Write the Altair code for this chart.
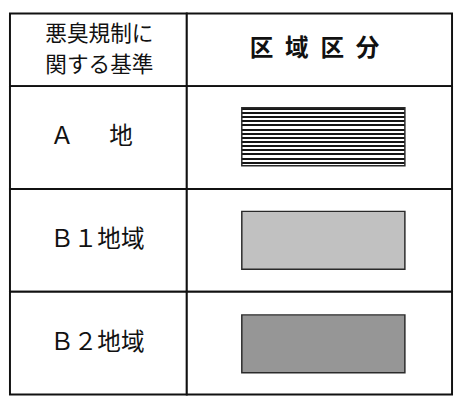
import altair as alt
import pandas as pd

# ---- table content ----
header_left_lines = ["悪臭規制に", "関する基準"]
header_right = "区\u2002域\u2002区\u2002分"
region_labels = ["Ａ\u3000\u2002地", "Ｂ１地域", "Ｂ２地域"]
region_patterns = ["hatch", "solid", "solid"]
region_fills = ["#ffffff", "#c1c1c1", "#969696"]

# ---- layout / style constants ----
LEFT_W, RIGHT_W = 180, 270
HEAD_H, BODY_H = 74, 314
LINE = "#111111"
LW = 2
FONT = "Noto Sans CJK JP"
TXT = "#111111"

# horizontal-line hatch as a striped gradient (style only)
N_STRIPES = 14
stops = []
for i in range(N_STRIPES):
    a = i / N_STRIPES
    b = (i + 0.48) / N_STRIPES
    c = (i + 1) / N_STRIPES
    stops += [
        {"offset": a, "color": "#151515"},
        {"offset": b, "color": "#151515"},
        {"offset": b, "color": "#ffffff"},
        {"offset": c, "color": "#ffffff"},
    ]
hatch = {"gradient": "linear", "x1": 0, "y1": 0, "x2": 0, "y2": 1, "stops": stops}

hl_df = pd.DataFrame({"text": header_left_lines})
hr_df = pd.DataFrame({"text": [header_right]})
body_df = pd.DataFrame({"label": region_labels, "pattern": region_patterns, "fill": region_fills})


def box(df, w, h):
    return alt.Chart(df).mark_rect(fill="white", stroke=LINE, strokeWidth=LW).encode(
        x=alt.value(0), x2=alt.value(w), y=alt.value(0), y2=alt.value(h)
    )


# header, left: two lines positioned by a point scale
line_y = alt.Y("text:N", sort=header_left_lines, axis=None,
               scale=alt.Scale(type="point", padding=0.7))
tl_txt = alt.Chart(hl_df).mark_text(
    font=FONT, fontSize=22, align="center", baseline="middle", color=TXT
).encode(text="text:N", x=alt.value(LEFT_W / 2 + 1), y=line_y)
tl = alt.layer(box(hl_df.iloc[[0]], LEFT_W, HEAD_H), tl_txt).resolve_scale(
    y="independent").properties(width=LEFT_W, height=HEAD_H)

# header, right
tr_txt = alt.Chart(hr_df).mark_text(
    font=FONT, fontSize=24, fontWeight="bold", align="center", baseline="middle", color=TXT
).encode(text="text:N", x=alt.value(RIGHT_W / 2 - 5), y=alt.value(HEAD_H / 2 - 1))
tr = alt.layer(box(hr_df, RIGHT_W, HEAD_H), tr_txt).properties(width=RIGHT_W, height=HEAD_H)

row_y = alt.Y("label:N", sort=region_labels, axis=None,
              scale=alt.Scale(paddingInner=0, paddingOuter=0))

bl_box = alt.Chart(body_df).mark_rect(fill="white", stroke=LINE, strokeWidth=LW).encode(
    y=row_y, x=alt.value(0), x2=alt.value(LEFT_W)
)
bl_txt = alt.Chart(body_df).mark_text(
    font=FONT, fontSize=24, align="left", baseline="middle", color=TXT
).encode(y=row_y, x=alt.value(41), text="label:N")
bl = (bl_box + bl_txt).properties(width=LEFT_W, height=BODY_H)

br_box = alt.Chart(body_df).mark_rect(fill="white", stroke=LINE, strokeWidth=LW).encode(
    y=row_y, x=alt.value(0), x2=alt.value(RIGHT_W)
)
sw_y = alt.Y("label:N", sort=region_labels, axis=None,
             scale=alt.Scale(paddingInner=0.44, paddingOuter=0.21))
br_sw = alt.Chart(body_df).mark_rect(stroke="#2a2a2a", strokeWidth=1.5).encode(
    y=sw_y,
    x=alt.value(56),
    x2=alt.value(222),
    fill=alt.condition("datum.pattern == 'hatch'", alt.value(hatch),
                       alt.Fill("fill:N", scale=None)),
)
br = alt.layer(br_box, br_sw).resolve_scale(y="independent").properties(
    width=RIGHT_W, height=BODY_H)

chart = (
    alt.concat(tl, tr, bl, br, columns=2, spacing=0, bounds="flush", align="each")
    .properties(padding=1, background="white")
    .configure_view(stroke=None)
)

chart.save("out.html", embed_options={"renderer": "svg", "actions": False})
